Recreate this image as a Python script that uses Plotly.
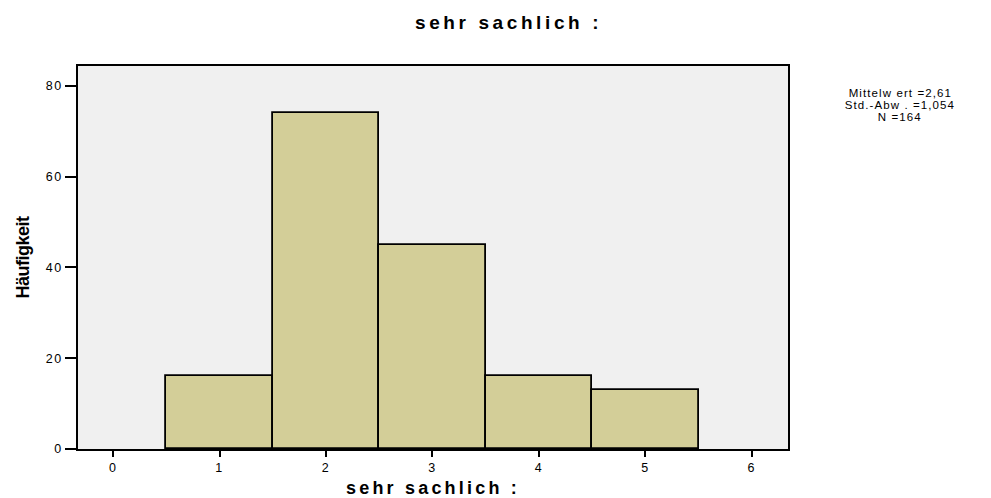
import plotly.graph_objects as go

categories = [1, 2, 3, 4, 5]
counts = [16, 74, 45, 16, 13]
x_ticks = [0, 1, 2, 3, 4, 5, 6]
y_ticks = [0, 20, 40, 60, 80]
title_text = "sehr sachlich :"
x_title = "sehr sachlich :"
y_title = "Häufigkeit"
stats_lines = ["Mittelw ert =2,61", "Std.-Abw . =1,054", "N =164"]

fig = go.Figure()
fig.add_trace(go.Bar(
    x=categories, y=counts, width=1.0,
    marker=dict(color="#d3ce98", line=dict(color="black", width=1.8)),
    showlegend=False,
))

annotations = [
    dict(text="<b>" + title_text + "</b>", xref="paper", yref="paper",
         x=0.607, y=1.0, yshift=44, xanchor="center", yanchor="middle",
         showarrow=False, font=dict(size=19)),
]
for i, line in enumerate(stats_lines):
    annotations.append(dict(
        text=line, xref="paper", yref="paper",
        x=1.0, xshift=112, y=1.0, yshift=-27 - 12 * i,
        xanchor="center", yanchor="middle", showarrow=False,
        font=dict(size=11.5),
    ))

fig.update_layout(
    width=991, height=498,
    margin=dict(l=78, r=203, t=66, b=49),
    paper_bgcolor="white",
    plot_bgcolor="#f0f0f0",
    font=dict(family="Liberation Sans, Arial, sans-serif", color="black", size=12.5),
    bargap=0,
    annotations=annotations,
)
fig.update_xaxes(
    range=[-0.33, 6.34], tickvals=x_ticks, ticktext=[str(v) for v in x_ticks],
    showline=True, linecolor="black", linewidth=1.8, mirror=True,
    ticks="outside", ticklen=6, tickwidth=1.8, tickcolor="black",
    showgrid=False, zeroline=False, automargin=False,
    title=dict(text="<b>" + x_title + "</b>", font=dict(size=18), standoff=10),
)
fig.update_yaxes(
    range=[0, 84.4], tickvals=y_ticks,
    showline=True, linecolor="black", linewidth=1.8, mirror=True,
    ticks="outside", ticklen=11, tickwidth=1.8, tickcolor="black",
    showgrid=False, zeroline=False, automargin=False,
    title=dict(text="<b>" + y_title + "</b>", font=dict(size=18), standoff=14),
)

post_js = """
document.body.style.margin = '0';
var gd = document.getElementById('{plot_id}');
function spacing() {
  gd.querySelectorAll('.xtick text, .ytick text').forEach(function(t){ t.setAttribute('letter-spacing', '1.5px'); });
  var ann = gd.querySelectorAll('.annotation-text');
  if (ann.length > 0) { ann[0].setAttribute('letter-spacing', '3.6px'); }
  for (var i = 1; i < ann.length; i++) { ann[i].setAttribute('letter-spacing', '1.1px'); }
  gd.querySelectorAll('.xtitle').forEach(function(t){ t.setAttribute('letter-spacing', '3.2px'); });
  gd.querySelectorAll('.ytitle').forEach(function(t){ t.setAttribute('letter-spacing', '-0.5px'); });
}
spacing();
if (gd.on) { gd.on('plotly_afterplot', spacing); }
"""

fig.write_html("out.html", post_script=post_js, config={"displayModeBar": False})
